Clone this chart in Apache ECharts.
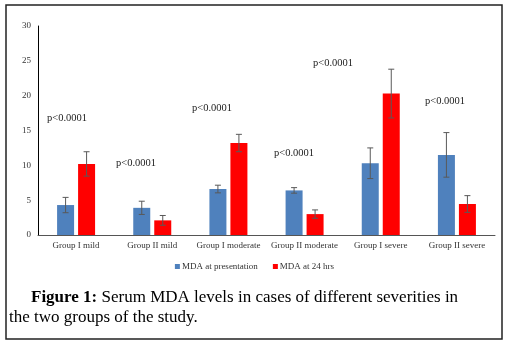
<!DOCTYPE html>
<html>
<head>
<meta charset="utf-8">
<script src="https://cdn.jsdelivr.net/npm/echarts@6/dist/echarts.min.js"></script>
<style>
  html, body { margin: 0; padding: 0; background: #fff; }
  #chart { width: 509px; height: 345px; }
</style>
</head>
<body>
<div id="chart"></div>
<script>
const categories = ['Group I mild', 'Group II mild', 'Group I moderate', 'Group II moderate', 'Group I severe', 'Group II severe'];
const seriesNames = ['MDA at presentation', 'MDA at 24 hrs'];
const presentation = [4.3, 3.9, 6.6, 6.4, 10.3, 11.5];
const presentationErr = [1.1, 0.95, 0.55, 0.4, 2.2, 3.2];
const at24 = [10.2, 2.1, 13.2, 3.0, 20.3, 4.45];
const at24Err = [1.75, 0.7, 1.25, 0.6, 3.5, 1.2];
const yTicks = [0, 5, 10, 15, 20, 25, 30];

// p-value notes, placed like the original figure (pixel anchors)
const pNotes = [[47, 118], [116, 163], [192, 108], [274, 153], [313, 63], [425, 101]];

const serif = "'Liberation Serif', 'Times New Roman', serif";
const barW = 17, barGapPx = 4;
const half = (barW + barGapPx) / 2;

function errorSeries(name, values, errs, offset) {
  return {
    name: name + ' err',
    type: 'custom',
    silent: true,
    z: 10,
    data: values.map((v, i) => [i, v, errs[i]]),
    renderItem: function (params, api) {
      const i = api.value(0), v = api.value(1), e = api.value(2);
      const hi = api.coord([i, v + e]);
      const lo = api.coord([i, v - e]);
      const x = hi[0] + offset;
      const st = { stroke: '#595959', lineWidth: 1 };
      return {
        type: 'group',
        children: [
          { type: 'line', shape: { x1: x, y1: hi[1], x2: x, y2: lo[1] }, style: st },
          { type: 'line', shape: { x1: x - 3, y1: hi[1], x2: x + 3, y2: hi[1] }, style: st },
          { type: 'line', shape: { x1: x - 3, y1: lo[1], x2: x + 3, y2: lo[1] }, style: st }
        ]
      };
    }
  };
}

const myChart = echarts.init(document.getElementById('chart'), null, { renderer: 'canvas' });

const graphics = pNotes.map(p => ({
  type: 'text',
  x: p[0], y: p[1],
  style: { text: 'p<0.0001', font: '10.5px ' + serif, fill: '#222', verticalAlign: 'middle' }
}));
graphics.push({
  type: 'rect',
  shape: { x: 6, y: 5, width: 496, height: 334 },
  style: { fill: 'none', stroke: '#222', lineWidth: 1.5 }
});
graphics.push({
  type: 'text',
  x: 31, y: 298,
  style: {
    text: '{b|Figure 1:} Serum MDA levels in cases of different severities in',
    rich: { b: { fontWeight: 'bold', fontSize: 17, fontFamily: serif, fill: '#000' } },
    fontSize: 17, fontFamily: serif, fill: '#000', verticalAlign: 'middle'
  }
});
graphics.push({
  type: 'text',
  x: 9, y: 318,
  style: { text: 'the two groups of the study.', fontSize: 17, fontFamily: serif, fill: '#000', verticalAlign: 'middle' }
});

myChart.setOption({
  animation: false,
  grid: { left: 38, right: 14, top: 26, bottom: 110, containLabel: false },
  legend: {
    data: seriesNames,
    top: 262,
    left: 'center',
    padding: 0,
    itemGap: 15,
    itemWidth: 5,
    itemHeight: 5,
    icon: 'rect',
    textStyle: { fontSize: 9, fontFamily: serif, color: '#333', padding: [0, 0, 0, -3] }
  },
  xAxis: {
    type: 'category',
    data: categories,
    axisLine: { show: true, lineStyle: { color: '#555', width: 1 } },
    axisTick: { show: false },
    axisLabel: { fontSize: 9, fontFamily: serif, color: '#333', margin: 6, interval: 0 }
  },
  yAxis: {
    type: 'value',
    min: yTicks[0],
    max: yTicks[yTicks.length - 1],
    interval: 5,
    axisLine: { show: true, lineStyle: { color: '#000', width: 1 } },
    axisTick: { show: false },
    splitLine: { show: false },
    axisLabel: { fontSize: 9, fontFamily: serif, color: '#333', margin: 7 }
  },
  series: [
    {
      name: seriesNames[0], type: 'bar', data: presentation,
      barWidth: barW, barGap: (barGapPx / barW * 100) + '%',
      itemStyle: { color: '#4f81bd' }
    },
    {
      name: seriesNames[1], type: 'bar', data: at24,
      barWidth: barW,
      itemStyle: { color: '#ff0000' }
    },
    errorSeries(seriesNames[0], presentation, presentationErr, -half),
    errorSeries(seriesNames[1], at24, at24Err, half)
  ],
  graphic: graphics
});
</script>
</body>
</html>
